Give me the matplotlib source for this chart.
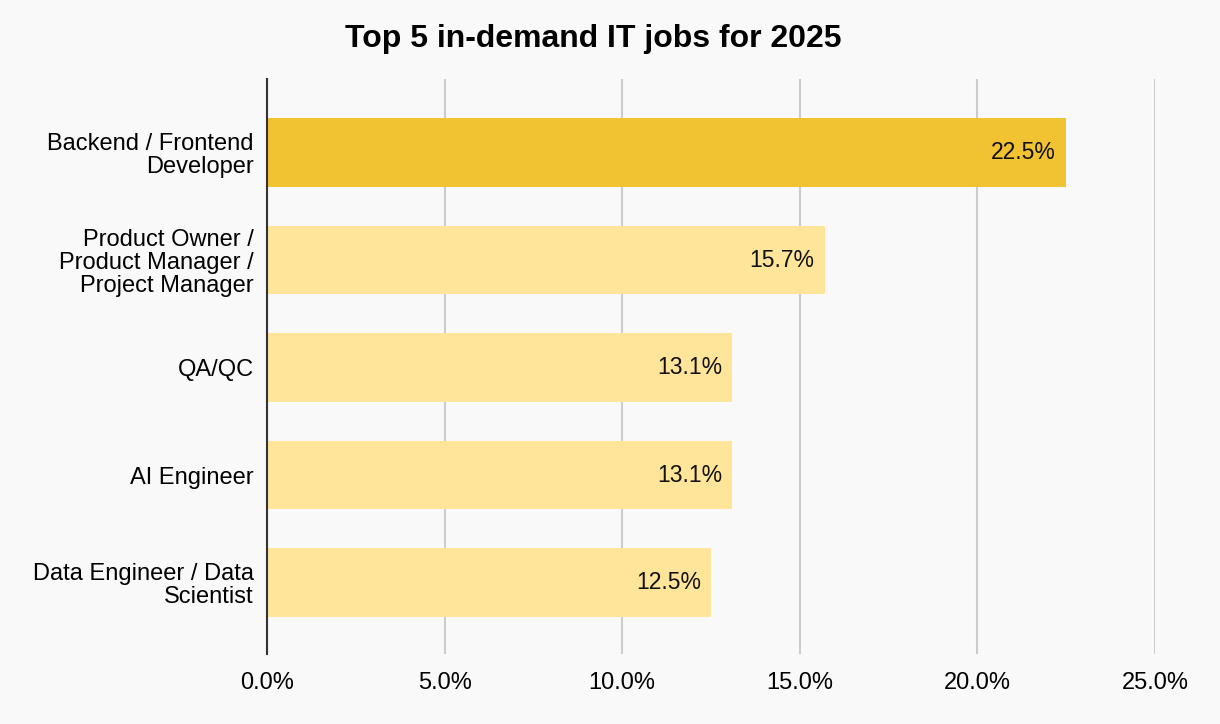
import matplotlib
matplotlib.use("Agg")
import matplotlib.pyplot as plt
from matplotlib.ticker import FuncFormatter

categories = ["Backend / Frontend\nDeveloper",
              "Product Owner /\nProduct Manager /\nProject Manager",
              "QA/QC",
              "AI Engineer",
              "Data Engineer / Data\nScientist"]
values = [22.5, 15.7, 13.1, 13.1, 12.5]
bar_colors = ["#F1C232", "#FFE599", "#FFE599", "#FFE599", "#FFE599"]
xticks = [0, 5, 10, 15, 20, 25]
title = "Top 5 in-demand IT jobs for 2025"

plt.rcParams['font.family'] = ['Liberation Sans', 'DejaVu Sans']

W, H = 1220, 724
fig = plt.figure(figsize=(W/100, H/100), dpi=100)
fig.patch.set_facecolor("#F9F9F9")
ax = fig.add_axes([267/W, 1-654/H, (1155-267)/W, (654-79)/H])
ax.set_facecolor("#F9F9F9")

y = list(range(len(categories)))
ax.barh(y, values, height=0.64, color=bar_colors, zorder=3)
for yi, v in zip(y, values):
    ax.annotate(f"{v:.1f}%", xy=(v, yi), xytext=(-7.2, 0), textcoords="offset points",
                ha="right", va="center", fontsize=16.5, color="#111111", zorder=4)

ax.set_xlim(0, 25)
ax.set_ylim(4.665, -0.684)
ax.set_xticks(xticks)
ax.xaxis.set_major_formatter(FuncFormatter(lambda x, p: f"{x:.1f}%"))
ax.set_yticks(y)
ax.set_yticklabels(categories, fontsize=17, linespacing=1.07)
ax.tick_params(axis="x", labelsize=17, length=0, pad=13)
ax.tick_params(axis="y", length=0, pad=9.4)
ax.grid(axis="x", color="#CCCCCC", linewidth=1.5, zorder=0)
for s in ["top", "right", "bottom"]:
    ax.spines[s].set_visible(False)
ax.spines["left"].set_color("#333333")
ax.spines["left"].set_linewidth(1.5)
ax.spines["left"].set_zorder(5)

fig.text(593/W, 1-39/H, title, ha="center", va="center", fontsize=23,
         fontweight="bold", color="#000000")

fig.savefig("out.png", dpi=100, facecolor=fig.get_facecolor())
